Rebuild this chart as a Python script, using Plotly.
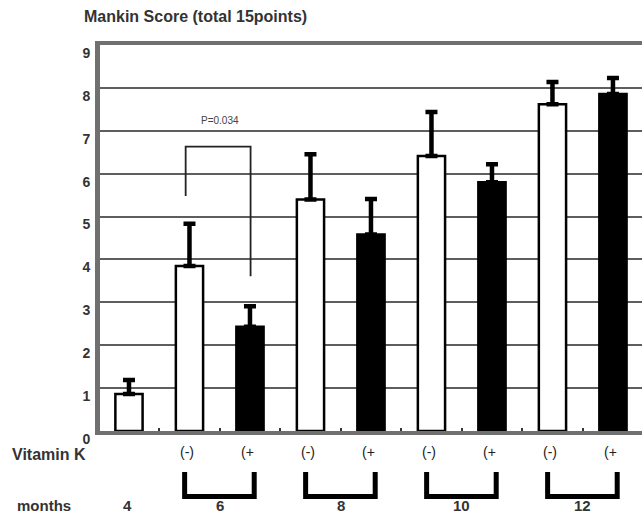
import plotly.graph_objects as go

# ---- data ----
ages = ["4", "6", "6", "8", "8", "10", "10", "12", "12"]
vitamin_k = ["", "(-)", "(+", "(-)", "(+", "(-)", "(+", "(-)", "(+"]
mean_score = [0.86, 3.85, 2.43, 5.40, 4.58, 6.41, 5.80, 7.62, 7.86]
sd_score = [0.33, 0.98, 0.48, 1.05, 0.83, 1.03, 0.42, 0.52, 0.37]
treated = [False, False, True, False, True, False, True, False, True]
y_ticks = [0, 1, 2, 3, 4, 5, 6, 7, 8, 9]
title_text = "Mankin Score (total 15points)"
p_value_text = "P=0.034"

FONT = "Liberation Sans, Arial, sans-serif"
x_pos = list(range(len(mean_score)))

fig = go.Figure()
fig.add_trace(go.Bar(
    x=x_pos,
    y=mean_score,
    width=0.45,
    marker=dict(
        color=["black" if t else "white" for t in treated],
        line=dict(color="black", width=2.5),
    ),
    error_y=dict(
        type="data", symmetric=False,
        array=sd_score, arrayminus=[0] * len(sd_score),
        color="black", thickness=4.5, width=6,
    ),
    showlegend=False,
    hoverinfo="skip",
))

shapes = []
# significance bracket between 6-month groups
shapes.append(dict(
    type="path", xref="x", yref="y",
    path="M 0.937,5.48 L 0.937,6.63 L 2.01,6.63 L 2.01,3.61",
    line=dict(color="#222", width=1.8),
))

annotations = []
annotations.append(dict(
    text=p_value_text, x=1.5, y=7.23, xref="x", yref="y",
    showarrow=False, font=dict(family=FONT, size=10, color="#444"),
))
annotations.append(dict(
    text="<b>" + title_text + "</b>", x=-0.033, y=1.075, xref="paper", yref="paper",
    xanchor="left", yanchor="middle", showarrow=False,
    font=dict(family=FONT, size=16, color="#333"),
))
annotations.append(dict(
    text="<b>Vitamin K</b>", x=-0.166, y=-0.062, xref="paper", yref="paper",
    xanchor="left", yanchor="middle", showarrow=False,
    font=dict(family=FONT, size=16, color="#333"),
))
annotations.append(dict(
    text="<b>months</b>", x=-0.157, y=-0.193, xref="paper", yref="paper",
    xanchor="left", yanchor="middle", showarrow=False,
    font=dict(family=FONT, size=15, color="#333"),
))

for i, vk in enumerate(vitamin_k):
    if vk:
        annotations.append(dict(
            text=vk, x=i - 0.04, y=-0.055, xref="x", yref="paper",
            xanchor="center", yanchor="middle", showarrow=False,
            font=dict(family=FONT, size=14, color="#222"),
        ))

# month labels: single group for 4, paired groups (bracketed) for others
i = 0
while i < len(ages):
    label = ages[i]
    if i + 1 < len(ages) and ages[i + 1] == label:
        xm = i + 0.5
        shapes.append(dict(
            type="path", xref="x", yref="paper",
            path=f"M {i - 0.08},-0.106 L {i - 0.08},-0.170 L {i + 1.07},-0.170 L {i + 1.07},-0.106",
            line=dict(color="black", width=5),
        ))
        i += 2
    else:
        xm = i - 0.03
        i += 1
    annotations.append(dict(
        text="<b>" + label + "</b>",
        x=xm, y=-0.193, xref="x", yref="paper",
        xanchor="center", yanchor="middle", showarrow=False,
        font=dict(family=FONT, size=15, color="#333"),
    ))

fig.update_layout(
    width=642, height=515, autosize=False,
    margin=dict(l=100, r=0, t=45, b=84),
    plot_bgcolor="white", paper_bgcolor="white",
    shapes=shapes, annotations=annotations,
    xaxis=dict(
        range=[-0.479, 8.48], showgrid=False, zeroline=False,
        showline=True, mirror=True, linecolor="#707070", linewidth=4,
        tickvals=[k + 0.5 for k in range(len(mean_score) - 1)],
        showticklabels=False, ticks="inside", ticklen=3, tickwidth=2, tickcolor="#333",
    ),
    yaxis=dict(
        range=[0, 9], tickvals=y_ticks,
        ticktext=[f"<b>{v}</b>" for v in y_ticks],
        showgrid=True, gridcolor="#5e5e5e", gridwidth=2,
        zeroline=False, showline=True, linecolor="#707070", linewidth=5,
        ticks="", ticklabelstandoff=2, ticklabelshift=8,
        tickfont=dict(family=FONT, size=14, color="#333"),
    ),
)

fig.write_html(
    "out.html",
    config={"displayModeBar": False},
    post_script="document.body.style.margin='0';document.body.style.overflow='hidden';",
)
